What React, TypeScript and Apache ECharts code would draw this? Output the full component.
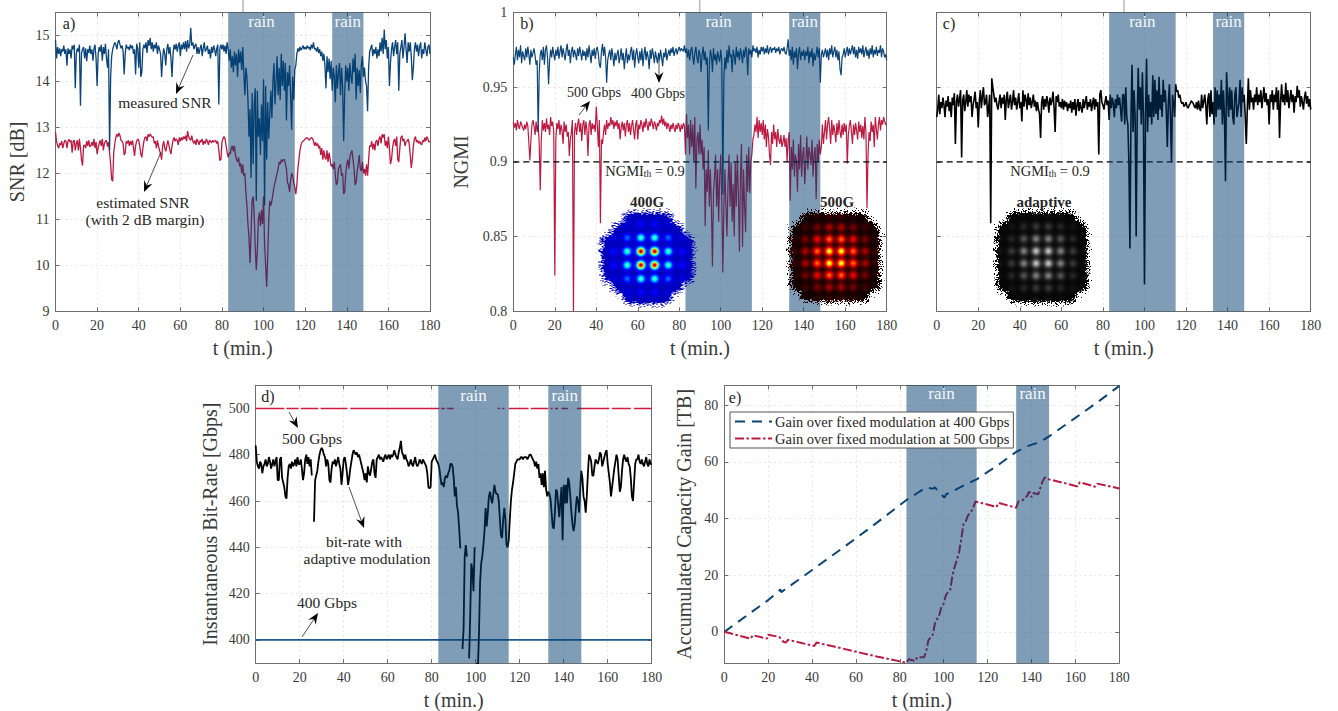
import React, { useEffect, useRef } from "react";
import * as echarts from "echarts";

const FONT = "'Liberation Serif', serif";
const STEP_MIN = 0.5;
const BLUE = "#0b4478";
const RED = "#bd1a42";
const BLACK = "#000000";
const BAND = "rgba(0,60,110,0.5)";
const TEXT = "#3a3a3a";
const rainBands = [[83, 115], [133, 148]];
const rateTicks = [400, 420, 440, 460, 480, 500];
const gainTicks = [0, 20, 40, 60, 80];

const snrMeasured = [
14.9,14.5,14.75,14.6,14.72,14.55,14.7,14.65,14.78,14.6,14.7,14.34,14.72,14.6,14.7,14.5,14.78,14.7,14.8,13.85,
14.6,14.72,14.65,14.8,13.47,14.62,14.7,14.75,14.5,14.72,14.44,14.7,14.62,14.78,14.6,14.7,14.45,14.72,14.8,14.5,
13.9,14.6,14.75,14.65,14.8,14.45,14.75,14.6,14.82,14.5,14.3,14.7,12.5,14.1,14.55,14.7,14.78,14.85,14.8,14.7,
14.85,14.9,14.8,14.72,14.78,14.65,14.15,14.6,14.8,14.72,14.75,14.68,14.8,14.72,14.78,14.6,14.7,14.15,14.82,14.72,
14.3,14.85,14.1,14.2,14.7,14.8,14.72,14.85,14.62,14.9,14.78,14.95,14.7,14.85,14.65,14.8,14.72,14.85,14.6,14.78,
14.7,14.6,14.1,14.5,14.72,14.6,14.35,14.7,14.82,14.6,14.75,14.5,14.1,14.6,14.8,14.7,14.82,14.65,14.78,14.85,
14.55,14.8,14.7,14.85,14.7,14.88,14.65,14.9,14.72,14.8,15.17,14.78,14.85,14.7,14.78,14.82,14.6,14.75,14.6,14.72,
14.8,14.55,14.72,14.85,14.65,14.7,14.78,14.6,14.7,14.5,14.75,14.62,14.78,14.7,14.55,14.72,14.8,13.5,14.72,14.8,
14.7,14.8,14.65,14.78,14.6,14.85,14.7,14.45,14.7,14.3,14.55,14.2,14.65,14.35,14.6,14.1,14.7,14.4,14.65,14.25,
14.75,14.2,13.7,14.3,14.1,13.6,12.8,13.4,11.9,13.75,12.2,13.5,13.85,11.4,13.8,12.8,13.2,12.4,13.5,12.7,
14.05,11.3,13.9,12.3,13.55,12.75,13.3,13.8,13.2,14.0,14.4,13.5,14.0,14.55,13.7,14.3,13.6,14.6,13.9,14.45,
13.8,14.4,13.15,14.2,13.9,14.35,13.7,12.95,14.1,13.6,14.25,14.35,14.6,14.72,14.65,14.75,14.68,14.72,14.78,14.7,
14.75,14.7,14.78,14.72,14.75,14.68,14.8,14.72,14.85,14.7,14.72,14.65,14.75,14.62,14.7,14.55,14.65,14.45,14.6,14.35,
13.85,14.55,14.2,14.5,14.05,14.45,13.8,14.3,14.1,13.55,14.35,13.85,14.2,14.4,13.7,14.3,13.9,12.7,13.75,14.35,
14.0,14.3,13.8,14.4,14.1,13.95,14.5,14.2,14.6,13.6,14.3,13.9,14.25,13.75,14.35,14.55,14.1,14.3,14.0,13.9,
13.35,14.3,14.65,14.72,14.8,14.55,14.7,14.6,14.75,14.5,14.7,14.55,14.85,14.65,14.95,14.6,15.13,14.7,14.9,14.5,
14.75,13.9,14.4,14.7,14.85,14.55,14.75,14.9,14.6,14.85,13.8,14.6,14.75,14.9,14.5,14.75,15.05,14.7,14.4,14.85,
14.65,14.85,14.55,14.03,14.3,14.7,14.85,14.65,14.8,14.55,14.75,14.85,14.5,14.7,14.6,14.85,14.7,14.55,14.75,14.8,
14.6];

const snrEstimated = [
12.9,12.7,12.6,12.55,12.65,12.62,12.7,12.55,12.65,12.72,12.7,12.55,12.7,12.74,12.68,12.72,12.45,12.7,12.72,12.5,
12.65,12.72,12.5,12.75,12.55,12.3,12.17,12.6,12.62,12.55,12.7,12.6,12.72,12.58,12.6,12.68,12.6,12.75,12.55,12.68,
12.42,12.55,12.65,12.72,12.6,12.75,12.5,12.65,12.7,12.72,12.58,12.68,12.45,12.2,11.87,11.83,12.45,12.65,12.78,12.85,
12.8,12.88,12.82,12.72,12.7,12.65,12.4,12.45,12.7,12.65,12.72,12.6,12.7,12.62,12.72,12.55,12.38,12.6,12.7,12.75,
12.72,12.6,12.42,12.35,12.55,12.7,12.78,12.8,12.7,12.85,12.8,12.86,12.82,12.78,12.8,12.65,12.7,12.55,12.72,12.6,
12.5,12.42,12.3,12.6,12.7,12.55,12.48,12.6,12.72,12.62,12.5,12.42,12.6,12.72,12.78,12.7,12.75,12.72,12.62,12.78,
12.7,12.78,12.72,12.8,12.75,12.82,12.7,12.92,12.8,12.75,12.72,12.82,12.7,12.65,12.72,12.62,12.75,12.7,12.62,12.72,
12.68,12.75,12.62,12.7,12.65,12.75,12.7,12.62,12.72,12.7,12.66,12.72,12.68,12.7,12.72,12.65,12.7,12.5,12.28,12.3,
12.68,12.75,12.8,12.75,12.6,12.45,12.35,12.45,12.42,12.55,12.6,12.48,12.6,12.4,12.3,12.25,12.35,12.15,12.22,12.0,
12.2,11.95,12.0,11.6,11.3,10.9,10.6,10.05,10.7,11.4,11.5,11.1,10.4,9.9,10.3,11.0,11.15,10.85,11.2,10.9,
11.5,10.45,10.0,9.53,10.2,11.0,11.4,11.3,11.4,11.55,11.7,11.8,11.9,12.0,12.1,12.25,12.2,12.3,12.25,12.3,
12.3,12.2,12.1,11.8,11.75,11.6,11.85,12.0,11.95,11.8,11.7,11.55,11.75,12.1,12.3,12.5,12.62,12.68,12.7,12.72,
12.75,12.76,12.78,12.75,12.72,12.76,12.78,12.76,12.7,12.6,12.68,12.6,12.65,12.55,12.6,12.4,12.55,12.3,12.5,12.35,
12.3,12.5,12.25,12.45,12.3,12.15,12.2,12.1,12.25,11.95,11.75,11.8,12.1,12.15,12.2,11.95,12.0,11.55,11.6,12.0,
12.2,12.3,12.1,12.35,12.45,12.5,12.3,12.1,11.75,11.8,12.05,12.2,12.4,12.1,12.05,12.25,12.0,12.1,11.95,12.2,
11.95,12.3,12.6,12.58,12.7,12.52,12.65,12.5,12.7,12.72,12.6,12.75,12.8,12.65,12.85,12.78,12.85,12.6,12.7,12.55,
12.8,12.55,12.2,12.3,12.55,12.7,12.75,12.6,12.8,12.3,12.25,12.55,12.78,12.82,12.7,12.75,12.6,12.68,12.7,12.75,
12.65,12.4,12.12,12.3,12.6,12.75,12.8,12.68,12.72,12.65,12.7,12.65,12.62,12.72,12.68,12.78,12.7,12.8,12.75,12.68,
12.7];

const ngmi400 = [
.97,.965,.972,.977,.968,.975,.97,.978,.966,.974,.971,.968,.976,.97,.977,.972,.965,.975,.97,.973,
.976,.971,.965,.968,.92,.96,.972,.975,.968,.977,.965,.975,.978,.97,.952,.968,.975,.97,.977,.972,
.968,.975,.971,.977,.969,.974,.978,.97,.976,.972,.968,.975,.979,.971,.975,.966,.974,.977,.97,.975,
.972,.968,.976,.971,.977,.973,.968,.975,.971,.974,.968,.976,.97,.978,.972,.966,.975,.971,.976,.969,
.975,.977,.972,.965,.963,.974,.979,.971,.977,.97,.953,.968,.972,.975,.968,.976,.971,.964,.973,.968,
.972,.975,.966,.97,.976,.968,.973,.962,.97,.976,.966,.972,.968,.974,.977,.968,.975,.963,.972,.976,
.97,.966,.974,.968,.976,.964,.972,.977,.968,.974,.97,.962,.975,.969,.976,.972,.966,.974,.97,.966,
.973,.968,.975,.97,.964,.973,.97,.976,.968,.972,.975,.971,.976,.973,.977,.971,.974,.976,.972,.975,
.977,.974,.976,.975,.974,.978,.973,.976,.97,.975,.968,.974,.977,.971,.965,.973,.977,.97,.966,.975,
.972,.96,.972,.977,.968,.974,.965,.97,.921,.965,.975,.971,.96,.976,.968,.972,.965,.974,.97,.967,
.975,.968,.878,.955,.97,.962,.975,.966,.978,.97,.972,.96,.975,.971,.965,.977,.97,.974,.968,.976,
.972,.966,.975,.97,.977,.974,.958,.976,.972,.975,.97,.978,.974,.976,.973,.977,.97,.975,.972,.977,
.974,.977,.972,.976,.973,.978,.972,.975,.977,.973,.976,.975,.977,.973,.976,.974,.977,.972,.975,.976,
.974,.977,.973,.972,.976,.982,.971,.975,.968,.977,.965,.974,.97,.976,.962,.973,.977,.968,.974,.971,
.975,.968,.974,.971,.977,.966,.974,.97,.976,.964,.973,.968,.972,.977,.97,.976,.953,.972,.975,.97,
.973,.976,.97,.975,.968,.976,.972,.978,.97,.974,.977,.97,.975,.968,.974,.962,.958,.97,.972,.976,
.97,.974,.977,.971,.976,.972,.975,.978,.972,.977,.97,.975,.969,.977,.973,.976,.972,.978,.97,.974,
.977,.971,.975,.969,.976,.972,.978,.97,.975,.972,.977,.971,.975,.973,.978,.97,.976,.974,.97,.972,
.968];

const ngmi500 = [
.927,.923,.926,.921,.928,.924,.922,.927,.925,.923,.921,.925,.922,.927,.924,.913,.901,.915,.925,.928,
.924,.918,.927,.92,.925,.912,.881,.915,.928,.921,.926,.92,.929,.922,.925,.918,.93,.924,.927,.92,
.824,.915,.926,.922,.928,.918,.925,.921,.912,.927,.92,.925,.917,.92,.904,.915,.92,.928,.8,.92,
.926,.918,.925,.929,.92,.926,.914,.925,.928,.918,.927,.921,.904,.925,.928,.918,.926,.922,.925,.92,
.937,.925,.91,.928,.859,.915,.912,.92,.925,.918,.928,.922,.926,.924,.93,.925,.928,.922,.927,.924,
.928,.922,.926,.915,.923,.927,.921,.926,.917,.925,.928,.92,.926,.918,.924,.928,.921,.915,.925,.928,
.915,.925,.922,.928,.925,.92,.927,.923,.929,.925,.921,.927,.924,.929,.926,.922,.927,.925,.921,.926,
.924,.928,.926,.931,.925,.929,.924,.927,.922,.926,.924,.92,.925,.922,.926,.923,.92,.925,.922,.926,
.924,.92,.925,.922,.926,.924,.905,.932,.916,.925,.905,.928,.91,.925,.9,.93,.882,.915,.92,.905,
.925,.905,.915,.895,.91,.857,.895,.88,.908,.87,.895,.87,.83,.88,.89,.905,.87,.895,.86,.89,
.905,.875,.826,.87,.895,.87,.85,.885,.905,.87,.9,.86,.885,.85,.9,.87,.905,.88,.84,.89,
.912,.843,.895,.87,.853,.905,.88,.91,.879,.9,.905,.915,.918,.925,.92,.93,.916,.928,.92,.926,
.918,.928,.915,.925,.91,.922,.917,.905,.898,.92,.912,.925,.915,.92,.91,.922,.915,.912,.918,.91,
.913,.918,.91,.916,.9,.915,.92,.874,.91,.895,.915,.89,.905,.9,.88,.912,.895,.918,.89,.905,
.91,.885,.9,.917,.895,.91,.905,.898,.915,.89,.905,.91,.875,.912,.9,.915,.905,.91,.925,.912,
.92,.928,.915,.925,.93,.922,.912,.928,.918,.925,.92,.913,.926,.918,.928,.92,.916,.925,.918,.926,
.92,.925,.899,.918,.924,.928,.92,.912,.925,.918,.926,.921,.915,.927,.92,.925,.916,.924,.915,.93,
.92,.869,.905,.92,.914,.927,.92,.925,.91,.93,.922,.915,.925,.93,.921,.928,.925,.93,.927,.925,
.925];

const ngmiAdaptive = [
.93,.935,.945,.932,.94,.936,.943,.938,.93,.941,.937,.944,.934,.94,.93,.943,.938,.946,.912,.94,
.945,.937,.942,.948,.903,.941,.945,.934,.94,.948,.937,.945,.94,.944,.93,.938,.942,.947,.936,.94,
.923,.94,.948,.936,.944,.95,.938,.94,.945,.93,.936,.945,.859,.956,.95,.945,.94,.943,.938,.935,
.94,.945,.936,.943,.939,.945,.928,.942,.947,.936,.941,.945,.935,.94,.948,.938,.943,.935,.94,.946,
.936,.94,.927,.948,.937,.945,.942,.935,.946,.938,.943,.936,.94,.945,.937,.941,.934,.94,.935,.932,
.916,.94,.944,.935,.942,.937,.944,.94,.933,.943,.938,.941,.947,.936,.92,.944,.94,.945,.937,.94,
.936,.942,.935,.941,.937,.94,.934,.939,.936,.941,.933,.94,.935,.942,.931,.938,.942,.934,.94,.936,
.933,.942,.936,.94,.944,.935,.94,.937,.942,.934,.939,.943,.935,.942,.937,.94,.905,.945,.948,.94,
.938,.935,.94,.944,.938,.941,.928,.945,.936,.943,.939,.93,.942,.936,.945,.938,.943,.935,.927,.945,
.945,.925,.95,.93,.925,.9,.842,.93,.965,.92,.948,.93,.85,.93,.963,.935,.95,.925,.96,.93,
.818,.93,.969,.92,.945,.93,.94,.925,.958,.93,.955,.932,.948,.928,.957,.935,.945,.93,.955,.94,
.948,.935,.91,.94,.952,.93,.9,.945,.94,.93,.952,.947,.948,.943,.945,.941,.939,.94,.937,.938,
.94,.937,.936,.938,.939,.941,.94,.939,.937,.936,.94,.935,.941,.936,.934,.945,.936,.94,.945,.938,
.925,.942,.946,.93,.948,.932,.94,.925,.95,.93,.948,.935,.945,.935,.955,.925,.948,.93,.887,.96,
.945,.93,.95,.935,.948,.93,.925,.945,.95,.93,.935,.94,.955,.93,.95,.94,.945,.93,.912,.936,
.956,.935,.948,.94,.943,.935,.945,.94,.95,.938,.945,.94,.948,.936,.943,.95,.94,.946,.938,.942,
.925,.945,.94,.948,.935,.945,.94,.95,.935,.948,.916,.94,.952,.94,.945,.938,.953,.94,.948,.936,
.942,.948,.94,.945,.933,.944,.94,.951,.943,.948,.937,.944,.94,.935,.943,.947,.939,.944,.937,.942,
.935];

const rateAdaptive = [
484,477,475,474,477,476,472,475,476,478,475,476,479,477,474,476,478,475,477,479,
469,469,478,479,470,468,466,462,461,470,475,476,474,477,475,476,478,475,479,476,
476,478,474,469,472,478,480,476,479,475,478,471,null,451,469,471,473,477,480,482,
483,482,480,479,475,478,476,469,468,474,477,476,478,475,477,479,476,474,467,472,
478,479,476,472,467,470,474,477,480,482,481,480,481,479,480,478,476,474,472,469,
472,468,475,472,471,474,477,478,472,470,478,479,480,478,479,478,477,479,480,478,
479,480,478,480,479,480,482,480,479,478,481,483,486,481,480,478,480,478,477,475,
476,478,476,475,477,479,476,475,476,478,477,476,478,477,476,475,472,466,465.5,466,
477,478,479,480,478,477,476,474,470,467,468,466,470,471,470,472,473,476,476,475,
470,462,466,458,455,448,439.5,null,396,405,436,441,436,null,392,410,433,430,421,440,
null,390,388,403,425,433,436,441,447,457,449,455,462,464,461,459,463,467,464,463,
463,460,452,445,444,452,457,452,441,440,443,452,460,465,468,472,476,477,478,478,
478,479,479,478,479,479,479,478,479,480,480,479,478,477,475,477,474,476,470,472,
467,472,466,473,465,462,464,463,461,455,449,448,455,465,464,458,453,460,466,443,
467,459,467,459,470,468,462,455,450,447,450,457,462,460,455,465,473,470,462,460,
455,462,472,480,479,477,471,471,475,478,477,476,478,481,480,475,477,479,481,482,
476,472,468,462,466,470,474,477,480,478,471,464,466,473,478,480,478,477,479,476,
475,470,462,460,468,476,478,478,480,477,476,478,476,475,477,479,476,475,478,476,
476];

const rate400Span = [[0, 400], [180, 400]];
const rate500OnIntervals = [
  [0, 13], [14, 19.5], [20.5, 28.5], [29.5, 41.7], [43, 83.5], [84.3, 86], [87, 90],
  [110, 111], [112, 113], [115, 124], [125, 133], [134, 135], [136, 137.5], [139, 142],
  [146, 160.7], [162, 170.5], [172, 180],
];

const gain400 = [
  [0,0],[10,5.6],[20,11.2],[25,14.5],[25.5,15],[26,14],[27,14.6],[40,21.8],[50,27.4],[60,33],[70,38.8],
  [83,46.5],[88,49],[92,51],[95,50.5],[96,51],[97,50],[99,48.5],[100,47.5],[100.5,47.5],[101,48.5],[105,50],
  [110,52],[115,53.8],[125,59],[133,63.5],[138,65.5],[142,66.5],[146,68],[148,69],[160,75.5],[170,81],[180,86.8],
];
const gain500 = [
  [0,0],[12,-2.4],[13,-1.2],[19.5,-2.4],[20,-1],[25,-1.8],[27,-3.5],[28,-3.8],[29,-2.8],[41,-5],[42,-3.8],
  [50,-5.2],[60,-7],[70,-8.8],[83,-10.9],[84,-9.7],[87,-10.3],[88,-8.9],[91,-9],[92,-7],[93,-3],[95,-1],[96,3],
  [98,6],[99,9],[100,10],[101,13],[103,15],[104,20],[105,23],[107,28],[108,33],[109,38],[110,39],[111,41],[112,42],
  [113,43],[114.5,46],[122,44.5],[124,44],[125,45.5],[133,43.8],[134,46],[136,46.5],[138,48],[139,49.5],[140,47.5],
  [141,49],[143,48.5],[145,53],[146,54.5],[148,53.8],[155,52.5],[161,51.3],[162,52.8],[169,51.2],[170,52.3],[180,50.6],
];

const gain400Name = "Gain over fixed modulation at 400 Gbps";
const gain500Name = "Gain over fixed modulation at 500 Gbps";

const xy = (vals: (number | null)[]) => vals.map((v, i) => [i * STEP_MIN, v]);

const grids = [
  { left: 55.5, top: 12.5, width: 374.5, height: 298.8 },
  { left: 513.3, top: 12.5, width: 373.4, height: 298.8 },
  { left: 936.7, top: 12.5, width: 374, height: 298.8 },
  { left: 255.7, top: 385.3, width: 396, height: 278 },
  { left: 724.3, top: 385.3, width: 395, height: 278 },
];

const xAxisFor = (gridIndex: number) => [
  {
    type: "value", gridIndex, min: 0, max: 180, interval: 20, name: "t (min.)", nameLocation: "middle", nameGap: 27,
    nameTextStyle: { fontFamily: FONT, fontSize: 20, color: TEXT },
    axisLine: { show: true, onZero: false, lineStyle: { color: "#6e6e6e" } },
    axisTick: { show: true, inside: true, length: 4, lineStyle: { color: "#6e6e6e" } },
    axisLabel: { show: true, margin: 7, fontFamily: FONT, fontSize: 14, color: TEXT },
    splitLine: { show: true, lineStyle: { color: "#e6e6e6", type: [2, 3], width: 1 } },
  },
  {
    type: "value", gridIndex, position: "top", min: 0, max: 180, interval: 20,
    axisLine: { show: true, onZero: false, lineStyle: { color: "#6e6e6e" } },
    axisTick: { show: true, inside: true, length: 4, lineStyle: { color: "#6e6e6e" } },
    axisLabel: { show: false }, splitLine: { show: false },
  },
];

const yAxisFor = (gridIndex: number, min: number, max: number, interval: number, name: string, gap: number, showLabels: boolean, custom?: number[]) => [
  {
    type: "value", gridIndex, min, max, interval, name, nameLocation: "middle", nameGap: gap,
    nameTextStyle: { fontFamily: FONT, fontSize: 20, color: TEXT },
    axisLine: { show: true, onZero: false, lineStyle: { color: "#6e6e6e" } },
    axisTick: { show: true, inside: true, length: 4, lineStyle: { color: "#6e6e6e" }, ...(custom ? { customValues: custom } : {}) },
    axisLabel: { show: showLabels, margin: 6, fontFamily: FONT, fontSize: 14, color: TEXT, showMaxLabel: custom ? undefined : max === 1, ...(custom ? { customValues: custom } : {}) },
    splitLine: { show: true, lineStyle: { color: "#e6e6e6", type: [2, 3], width: 1 }, ...(custom ? { customValues: custom } : {}) },
  },
  {
    type: "value", gridIndex, position: "right", min, max, interval,
    axisLine: { show: true, onZero: false, lineStyle: { color: "#6e6e6e" } },
    axisTick: { show: true, inside: true, length: 4, lineStyle: { color: "#6e6e6e" }, ...(custom ? { customValues: custom } : {}) },
    axisLabel: { show: false }, splitLine: { show: false },
  },
];

const lineSeries = (panel: number, name: string, data: any[], color: string, width: number, extra: any = {}) => ({
  type: "line", name, xAxisIndex: panel * 2, yAxisIndex: panel * 2, data, showSymbol: false, symbol: "none",
  connectNulls: false, silent: true, z: 3, lineStyle: { color, width, ...(extra.lineStyle || {}) }, itemStyle: { color },
});

const bandSeries = (panel: number, labelOffset: number) => ({
  type: "custom", xAxisIndex: panel * 2, yAxisIndex: panel * 2, data: rainBands, silent: true, z: 6, clip: false,
  encode: { x: [0, 1] },
  renderItem: (params: any, api: any) => {
    const cs = params.coordSys;
    const a = api.coord([api.value(0), 0])[0];
    const b = api.coord([api.value(1), 0])[0];
    return {
      type: "group",
      children: [
        { type: "rect", shape: { x: a, y: cs.y, width: b - a, height: cs.height }, style: { fill: BAND } },
        { type: "text", style: { text: "rain", x: (a + b) / 2, y: cs.y + labelOffset, fill: "#f4f7fa", align: "center", verticalAlign: "middle", fontFamily: FONT, fontSize: 17 } },
      ],
    };
  },
});

const label = (text: string, x: number, y: number, fontSize = 15.5, fontWeight = "normal", fill = "#262626") => ({
  type: "text", z: 100, silent: true,
  style: { text, x, y, align: "center", verticalAlign: "middle", fontFamily: FONT, fontSize, fontWeight, fill },
});

const ngmiLabel = (x: number, y: number) => ({
  type: "text", z: 100, silent: true,
  style: {
    text: "{a|NGMI}{s|th}{a| = 0.9}", x, y, align: "center", verticalAlign: "middle", fontFamily: FONT, fontSize: 14.5, fill: "#262626",
    rich: {
      a: { fontFamily: FONT, fontSize: 14.5, fill: "#262626" },
      s: { fontFamily: FONT, fontSize: 9.5, fill: "#262626", verticalAlign: "bottom" },
    },
  },
});

const arrow = (x1: number, y1: number, x2: number, y2: number, headLen = 11, headW = 4.5) => {
  const d = Math.hypot(x2 - x1, y2 - y1);
  const ux = (x2 - x1) / d;
  const uy = (y2 - y1) / d;
  const nx = -uy;
  const ny = ux;
  const bx = x2 - ux * headLen;
  const by = y2 - uy * headLen;
  const mx = x2 - ux * headLen * 0.65;
  const my = y2 - uy * headLen * 0.65;
  return [
    { type: "line", z: 100, silent: true, shape: { x1, y1, x2: mx, y2: my }, style: { stroke: "#222", lineWidth: 0.8 } },
    { type: "polygon", z: 100, silent: true, shape: { points: [[x2, y2], [bx + nx * headW, by + ny * headW], [mx, my], [bx - nx * headW, by - ny * headW]] }, style: { fill: "#000" } },
  ];
};

const clamp01 = (t: number) => Math.max(0, Math.min(1, t));
const jet = (v: number) => [clamp01(1.5 - Math.abs(4 * v - 3)), clamp01(1.5 - Math.abs(4 * v - 2)), clamp01(1.5 - Math.abs(4 * v - 1))];
const hot = (v: number) => [clamp01(v / 0.375), clamp01((v - 0.375) / 0.375), clamp01((v - 0.75) / 0.25)];
const gray = (v: number) => [v, v, v];

const speckle = (x: number, y: number) => {
  let n = (Math.imul(x, 73856093) ^ Math.imul(y, 19349663)) | 0;
  n = Math.imul(n ^ (n >>> 13), 1274126177);
  n = n ^ (n >>> 16);
  return (n >>> 0) / 4294967296;
};

function constellation(opts: { map: (v: number) => number[]; spacing: number; sigma: number; nu: number; gain: number; rMax: number; cloud: number; cloudScale: number; floor: number }) {
  const S = 200;
  const canvas = document.createElement("canvas");
  canvas.width = S;
  canvas.height = S;
  const ctx = canvas.getContext("2d");
  if (!ctx) return "";
  const img = ctx.createImageData(S, S);
  const lv = [-3.5, -2.5, -1.5, -0.5, 0.5, 1.5, 2.5, 3.5];
  for (let py = 0; py < S; py++) {
    for (let px = 0; px < S; px++) {
      const X = (px - S / 2) / 2;
      const Y = (py - S / 2) / 2;
      let peak = 0;
      let cl = 0;
      for (const a of lv) {
        for (const b of lv) {
          const r2 = a * a + b * b;
          const dx = X - a * opts.spacing;
          const dy = Y - b * opts.spacing;
          peak += Math.exp(-opts.nu * (r2 - 0.5)) * Math.exp(-(dx * dx + dy * dy) / (2 * opts.sigma * opts.sigma));
          if (r2 <= opts.rMax) {
            const cx = X - a * opts.spacing * opts.cloudScale;
            const cy = Y - b * opts.spacing * opts.cloudScale;
            cl += Math.exp(-(cx * cx + cy * cy) / (2 * opts.cloud * opts.cloud));
          }
        }
      }
      const h = speckle(Math.floor(px / 2), Math.floor(py / 2));
      const p = clamp01((cl - 0.04) / 0.7);
      const i = (py * S + px) * 4;
      if (h < p) {
        const [r, g, b] = opts.map(clamp01(opts.floor + peak * opts.gain));
        img.data[i] = r * 255;
        img.data[i + 1] = g * 255;
        img.data[i + 2] = b * 255;
        img.data[i + 3] = 255;
      } else {
        img.data[i + 3] = 0;
      }
    }
  }
  ctx.putImageData(img, 0, 0);
  return canvas.toDataURL("image/png");
}

const topStub = (x: number) => ({ type: "line", z: 100, silent: true, shape: { x1: x, y1: 0, x2: x, y2: 12 }, style: { stroke: "#bdbdbd", lineWidth: 1.6 } });

export default function App() {
  const ref = useRef<HTMLDivElement | null>(null);
  useEffect(() => {
    document.body.style.margin = "0";
    if (!ref.current) return;
    const chart = echarts.init(ref.current, undefined, { renderer: "svg" });
    const img400 = constellation({ map: jet, spacing: 13.7, sigma: 2.7, nu: 0.42, gain: 0.92, rMax: 17, cloud: 5, cloudScale: 0.8, floor: 0.06 });
    const img500 = constellation({ map: hot, spacing: 12, sigma: 3, nu: 0.2, gain: 0.78, rMax: 20, cloud: 5, cloudScale: 0.88, floor: 0.02 });
    const imgAd = constellation({ map: gray, spacing: 12.3, sigma: 2.9, nu: 0.22, gain: 0.74, rMax: 20, cloud: 5, cloudScale: 0.88, floor: 0.02 });

    const rate500Data: any[] = [];
    rate500OnIntervals.forEach(([a, b]) => {
      rate500Data.push([a, 500], [b, 500], [b, null]);
    });

    const option: any = {
      animation: false,
      textStyle: { fontFamily: FONT },
      grid: grids.map((g) => ({ ...g, containLabel: false, show: false })),
      xAxis: [...xAxisFor(0), ...xAxisFor(1), ...xAxisFor(2), ...xAxisFor(3), ...xAxisFor(4)],
      yAxis: [
        ...yAxisFor(0, 9, 15.5, 1, "SNR [dB]", 29, true),
        ...yAxisFor(1, 0.8, 1, 0.05, "NGMI", 42, true),
        ...yAxisFor(2, 0.8, 1, 0.05, "", 0, false),
        ...yAxisFor(3, 390, 510, 20, "Instantaneous Bit-Rate [Gbps]", 36, true, rateTicks),
        ...yAxisFor(4, -11, 87, 20, "Accumulated Capacity Gain [TB]", 30, true, gainTicks),
      ],
      legend: {
        data: [gain400Name, gain500Name], left: 730, top: 412, orient: "vertical", z: 20,
        backgroundColor: "#fff", borderColor: "#555", borderWidth: 1, padding: [2, 4], itemWidth: 37, itemHeight: 8, itemGap: 2,
        itemStyle: { opacity: 0 },
        selectedMode: false, textStyle: { fontFamily: FONT, fontSize: 14.5, color: "#262626", padding: [0, 0, 0, -2] },
      },
      series: [
        lineSeries(0, "SNR estimated", xy(snrEstimated), RED, 1.3),
        lineSeries(0, "SNR measured", xy(snrMeasured), BLUE, 1.3),
        bandSeries(0, 8.5),
        lineSeries(1, "NGMI 500", xy(ngmi500), RED, 1.2),
        lineSeries(1, "NGMI 400", xy(ngmi400), BLUE, 1.2),
        lineSeries(1, "NGMI threshold a", [[0, 0.9], [180, 0.9]], "#000", 1.2, { lineStyle: { type: [6, 4] } }),
        bandSeries(1, 8.5),
        lineSeries(2, "NGMI adaptive", xy(ngmiAdaptive), BLACK, 1.6),
        lineSeries(2, "NGMI threshold b", [[0, 0.9], [180, 0.9]], "#000", 1.2, { lineStyle: { type: [6, 4] } }),
        bandSeries(2, 8.5),
        lineSeries(3, "500 Gbps", rate500Data, "#cf1a3f", 1.6),
        lineSeries(3, "400 Gbps", rate400Span, "#1f5a8c", 1.8),
        lineSeries(3, "adaptive", xy(rateAdaptive), BLACK, 1.8),
        bandSeries(3, 10.5),
        lineSeries(4, gain400Name, gain400, BLUE, 2, { lineStyle: { type: [10, 7] } }),
        lineSeries(4, gain500Name, gain500, RED, 2, { lineStyle: { type: [9, 2.5, 2.5, 2.5] } }),
        bandSeries(4, 8.5),
      ],
      graphic: [
        topStub(243), topStub(699.7), topStub(1124),
        label("a)", 69, 23, 16), label("b)", 527, 23, 16), label("c)", 949, 23, 16), label("d)", 268, 396, 16), label("e)", 735, 397, 16),
        label("measured SNR", 165, 102), label("estimated SNR", 143, 202), label("(with 2 dB margin)", 145, 219),
        ...arrow(193, 55, 176, 94), ...arrow(161, 152, 144, 192),
        label("500 Gbps", 594, 92, 14), label("400 Gbps", 658, 93, 14),
        ...arrow(579, 115, 590, 101), ...arrow(659, 60, 659, 83),
        ngmiLabel(645, 171), ngmiLabel(1050, 171),
        { type: "image", z: 90, silent: true, style: { image: img400, x: 597.5, y: 208, width: 100, height: 100 } },
        { type: "image", z: 90, silent: true, style: { image: img500, x: 785, y: 207, width: 100, height: 100 } },
        { type: "image", z: 90, silent: true, style: { image: imgAd, x: 992, y: 207, width: 100, height: 100 } },
        label("400G", 647, 202, 15, "bold"), label("500G", 837, 202, 15, "bold"), label("adaptive", 1044, 202, 15, "bold"),
        label("500 Gbps", 312, 438), ...arrow(289, 412, 298, 428),
        label("bit-rate with", 364, 541), label("adaptive modulation", 367, 558), ...arrow(349, 487, 364, 528),
        label("400 Gbps", 327, 602), ...arrow(302, 637, 318, 613),
      ],
    };
    chart.setOption(option);
    return () => chart.dispose();
  }, []);
  return <div ref={ref} style={{ position: "absolute", left: 0, top: 0, width: 1338, height: 711, background: "#fff" }} />;
}
